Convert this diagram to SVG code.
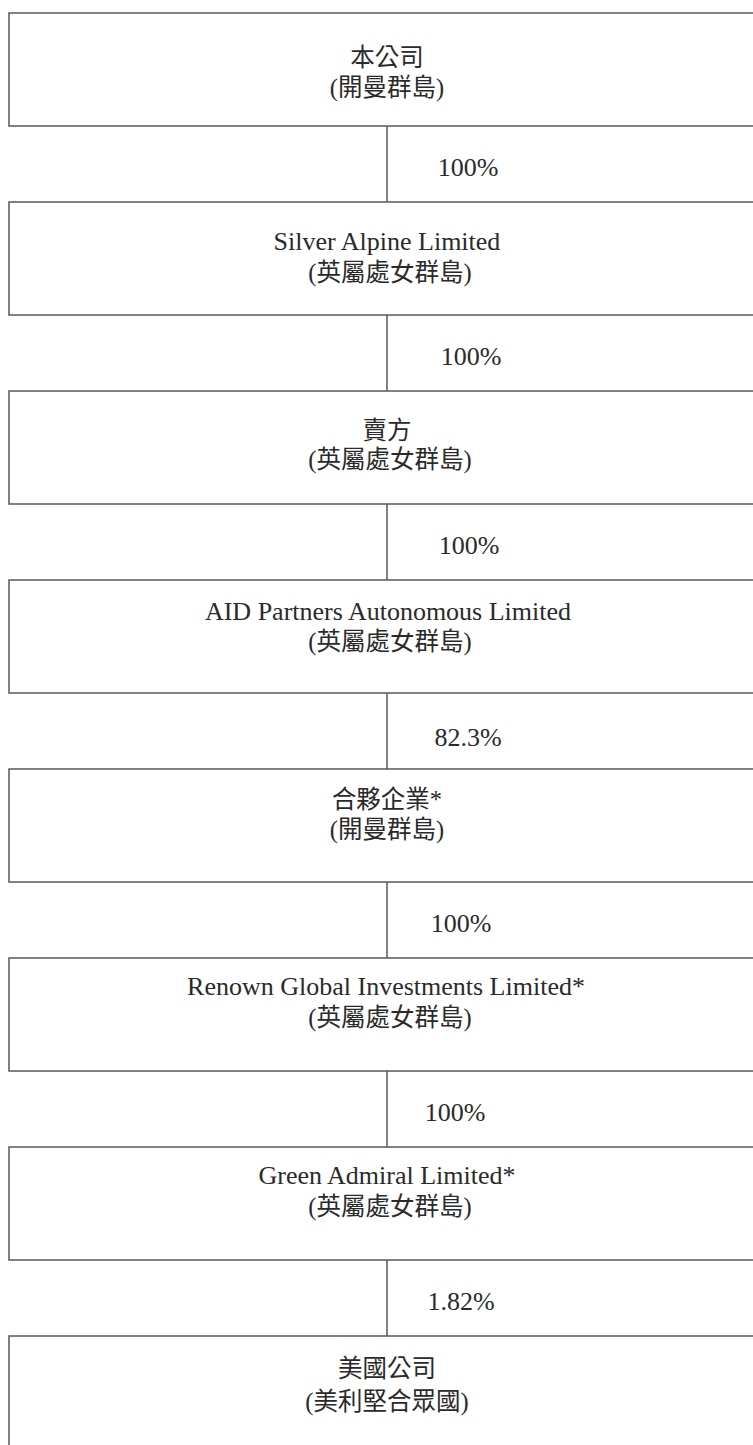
<svg xmlns="http://www.w3.org/2000/svg" width="753" height="1445" viewBox="0 0 753 1445">
<style>
.box{fill:#fff;stroke:#585858;stroke-width:1.5}
.ln{stroke:#585858;stroke-width:1.5;fill:none}
.lat{font-family:"Liberation Serif","Noto Sans CJK TC",serif;font-size:26px;fill:#2a2a2a;text-anchor:middle}
.cjk{font-family:"Liberation Serif","Noto Sans CJK TC",serif;font-size:24.5px;fill:#2a2a2a;text-anchor:middle}
.pct{font-family:"Liberation Serif",serif;font-size:26px;fill:#2a2a2a;text-anchor:middle}
</style>
<rect width="753" height="1445" fill="#fff"/>
<g id="connectors">
<line class="ln" x1="387" y1="126" x2="387" y2="202"/>
<line class="ln" x1="387" y1="315" x2="387" y2="391"/>
<line class="ln" x1="387" y1="504" x2="387" y2="580"/>
<line class="ln" x1="387" y1="693" x2="387" y2="769"/>
<line class="ln" x1="387" y1="882" x2="387" y2="958"/>
<line class="ln" x1="387" y1="1071" x2="387" y2="1147"/>
<line class="ln" x1="387" y1="1260" x2="387" y2="1336"/>
<text class="pct" x="468" y="176">100%</text>
<text class="pct" x="471" y="365">100%</text>
<text class="pct" x="469" y="554">100%</text>
<text class="pct" x="468" y="746">82.3%</text>
<text class="pct" x="461" y="932">100%</text>
<text class="pct" x="455" y="1121">100%</text>
<text class="pct" x="461" y="1310">1.82%</text>
</g>
<g id="n1">
<rect class="box" x="9" y="13" width="760" height="113"/>
<text class="cjk" x="387" y="66">本公司</text>
<text class="cjk" x="387" y="96">(開曼群島)</text>
</g>
<g id="n2">
<rect class="box" x="9" y="202" width="760" height="113"/>
<text class="lat" x="387" y="250">Silver Alpine Limited</text>
<text class="cjk" x="390" y="281">(英屬處女群島)</text>
</g>
<g id="n3">
<rect class="box" x="9" y="391" width="760" height="113"/>
<text class="cjk" x="387" y="439">賣方</text>
<text class="cjk" x="390" y="468">(英屬處女群島)</text>
</g>
<g id="n4">
<rect class="box" x="9" y="580" width="760" height="113"/>
<text class="lat" x="388" y="620">AID Partners Autonomous Limited</text>
<text class="cjk" x="390" y="650">(英屬處女群島)</text>
</g>
<g id="n5">
<rect class="box" x="9" y="769" width="760" height="113"/>
<text class="cjk" x="387" y="808">合夥企業*</text>
<text class="cjk" x="387" y="838">(開曼群島)</text>
</g>
<g id="n6">
<rect class="box" x="9" y="958" width="760" height="113"/>
<text class="lat" x="386" y="995">Renown Global Investments Limited*</text>
<text class="cjk" x="390" y="1026">(英屬處女群島)</text>
</g>
<g id="n7">
<rect class="box" x="9" y="1147" width="760" height="113"/>
<text class="lat" x="387" y="1184">Green Admiral Limited*</text>
<text class="cjk" x="390" y="1215">(英屬處女群島)</text>
</g>
<g id="n8">
<rect class="box" x="9" y="1336" width="760" height="120"/>
<text class="cjk" x="387" y="1377">美國公司</text>
<text class="cjk" x="387" y="1410">(美利堅合眾國)</text>
</g>
</svg>
